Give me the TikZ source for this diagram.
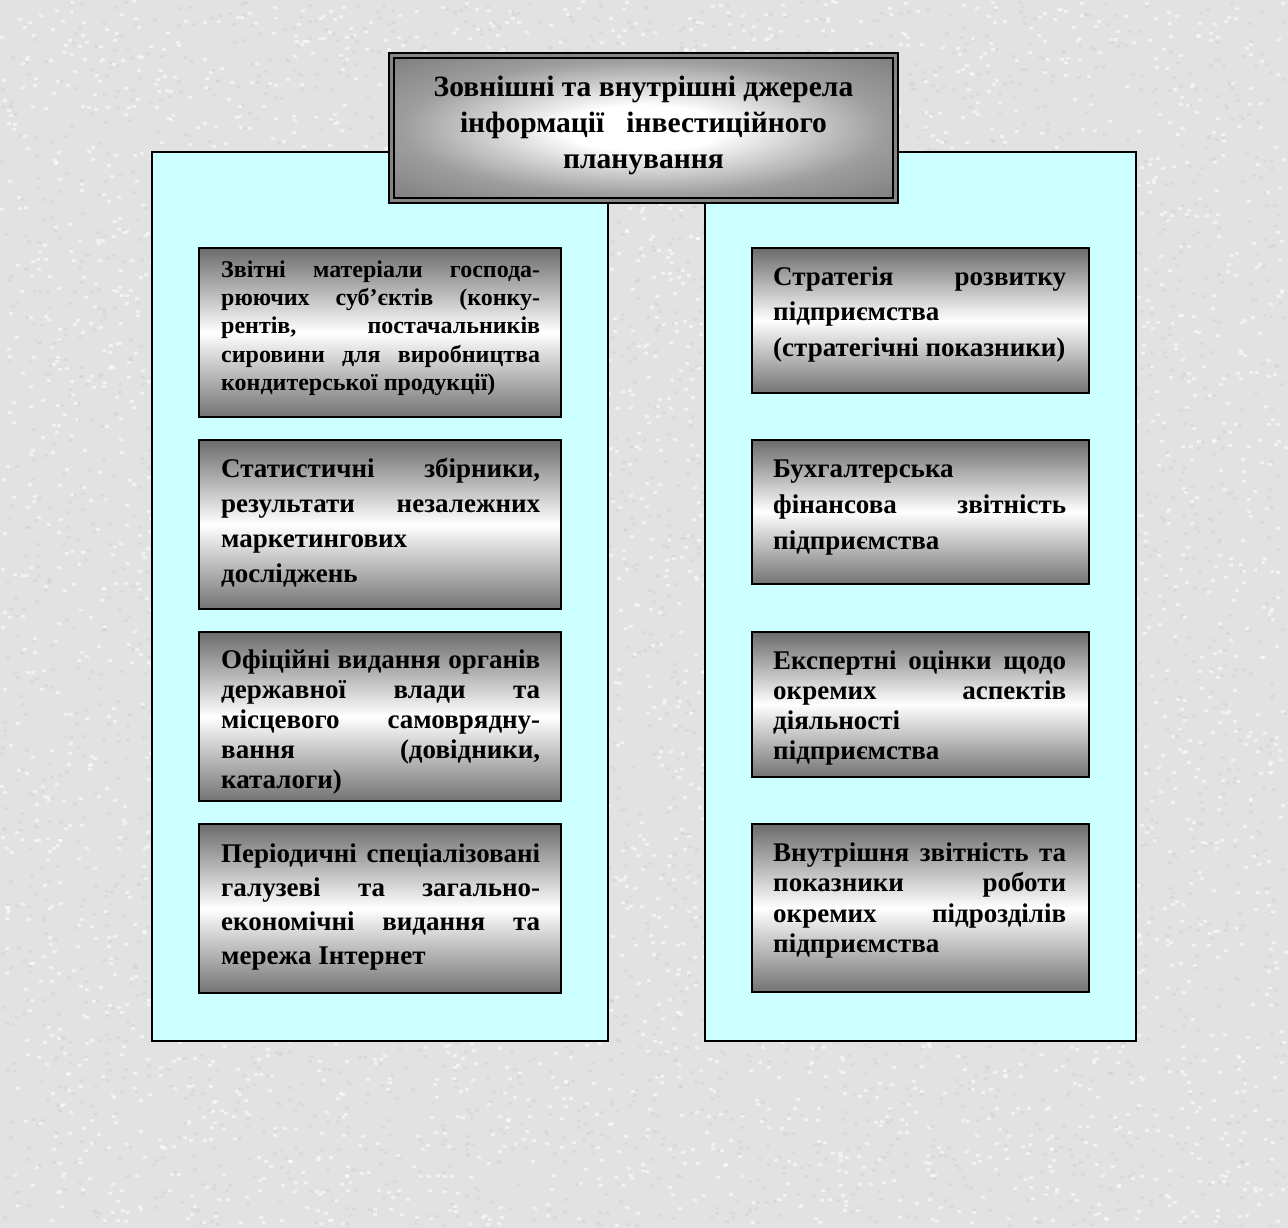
\documentclass[tikz,border=0pt]{standalone}
\usepackage{fontspec}
\setmainfont{Liberation Serif}
\definecolor{bgc}{RGB}{226,226,226}
\definecolor{panelc}{RGB}{204,255,255}
\pgfdeclareradialshading{titleshade}{\pgfpoint{0bp}{0bp}}{color(0bp)=(white); color(8bp)=(white); color(24bp)=(black!38); color(40bp)=(black!55); color(50bp)=(black!60); color(72bp)=(black!75)}
\tikzset{
  panel/.style={draw=black, line width=1.3pt, fill=panelc},
  srcbox/.style={draw=black, line width=1.6pt, top color=black!58, bottom color=black!55, middle color=white},
  txt/.style={inner sep=0pt, font=\bfseries, text=black},
}
\newcommand\jl[1]{\makebox[\linewidth][s]{#1}\\}
\begin{document}
\begin{tikzpicture}[x=1pt,y=-1pt]
\useasboundingbox (0,0) rectangle (1288,1228);
\fill[bgc] (0,0) rectangle (1288,1228);
% background texture
\pgfmathsetseed{7}
\foreach \i in {1,...,4500}{
  \pgfmathsetmacro{\px}{rnd*1284}
  \pgfmathsetmacro{\py}{rnd*1224}
  \fill[black!18, opacity=0.45] (\px,\py) rectangle ++(4,3);
}
\foreach \i in {1,...,4500}{
  \pgfmathsetmacro{\px}{rnd*1284}
  \pgfmathsetmacro{\py}{rnd*1224}
  \fill[white, opacity=0.55] (\px,\py) rectangle ++(4,3);
}
% panels
\draw[panel] (152,152) rectangle (608,1041);
\draw[panel] (705,152) rectangle (1136,1041);
% title box
\draw[black, line width=1.4pt, fill=black!48] (389,53) rectangle (898,203);
\draw[black, line width=1.4pt, shading=titleshade] (394,58) rectangle (893,198);
\node[txt, anchor=base] (title) at (643.5,97) {\parbox[t]{500pt}{\centering\fontsize{29.5}{36}\selectfont
Зовнішні та внутрішні джерела\\ інформації\ \ \ інвестиційного\\ планування}};
% left boxes
\draw[srcbox] (199,248) rectangle (561,417);
\draw[srcbox] (199,440) rectangle (561,609);
\draw[srcbox] (199,632) rectangle (561,801);
\draw[srcbox] (199,824) rectangle (561,993);
% right boxes
\draw[srcbox] (752,248) rectangle (1089,393);
\draw[srcbox] (752,440) rectangle (1089,584);
\draw[srcbox] (752,632) rectangle (1089,777);
\draw[srcbox] (752,824) rectangle (1089,992);
% left texts
\node[txt, anchor=base west] (l1) at (221,277) {\parbox[t]{319pt}{\fontsize{24}{28.4}\selectfont
\jl{Звітні матеріали господа-}\jl{рюючих суб’єктів (конку-}\jl{рентів, постачальників}\jl{сировини для виробництва}кондитерської продукції)}};
\node[txt, anchor=base west] (l2) at (221,477) {\parbox[t]{319pt}{\fontsize{27}{35}\selectfont
\jl{Статистичні збірники,}\jl{результати незалежних}маркетингових\\досліджень}};
\node[txt, anchor=base west] (l3) at (221,668) {\parbox[t]{319pt}{\fontsize{27}{30}\selectfont
\jl{Офіційні видання органів}\jl{державної влади та}\jl{місцевого самоврядну-}\jl{вання (довідники,}каталоги)}};
\node[txt, anchor=base west] (l4) at (221,862) {\parbox[t]{319pt}{\fontsize{27}{34.3}\selectfont
\jl{Періодичні спеціалізовані}\jl{галузеві та загально-}\jl{економічні видання та}мережа Інтернет}};
% right texts
\node[txt, anchor=base west] (r1) at (773,285) {\parbox[t]{293pt}{\fontsize{27}{35.5}\selectfont
\jl{Стратегія розвитку}підприємства\\(стратегічні показники)}};
\node[txt, anchor=base west] (r2) at (773,477) {\parbox[t]{293pt}{\fontsize{27}{36}\selectfont
Бухгалтерська\\\jl{фінансова звітність}підприємства}};
\node[txt, anchor=base west] (r3) at (773,669) {\parbox[t]{293pt}{\fontsize{27}{30}\selectfont
\jl{Експертні оцінки щодо}\jl{окремих аспектів}діяльності\\підприємства}};
\node[txt, anchor=base west] (r4) at (773,861) {\parbox[t]{293pt}{\fontsize{27}{30.5}\selectfont
\jl{Внутрішня звітність та}\jl{показники роботи}\jl{окремих підрозділів}підприємства}};
\end{tikzpicture}
\end{document}
